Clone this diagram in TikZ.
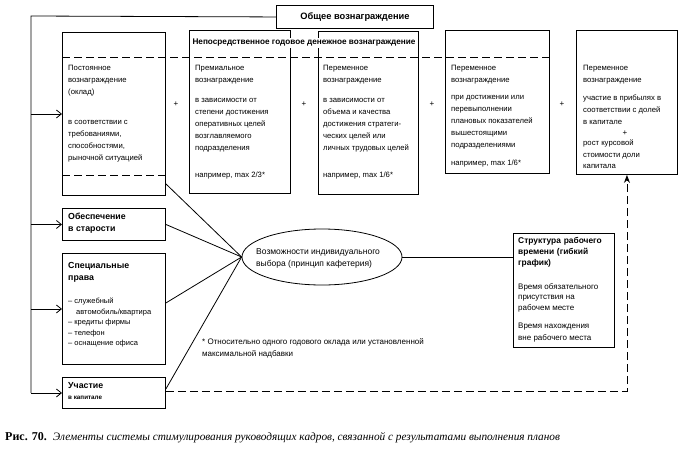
\documentclass[tikz,border=0pt]{standalone}
\usepackage{fontspec}
\setmainfont{Liberation Sans}
\newfontfamily\serf{Liberation Serif}
\usetikzlibrary{arrows.meta,shapes.geometric,calc}
\begin{document}
\begin{tikzpicture}[x=1pt,y=-1pt,
  box/.style={draw,line width=0.9pt,anchor=north west,inner sep=0pt},
  txt/.style={anchor=north west,inner sep=0pt,align=left,font=\fontsize{7.7}{12}\selectfont},
  btxt/.style={anchor=north west,inner sep=0pt,align=left,font=\fontsize{8.8}{12}\selectfont\bfseries},
  conn/.style={line width=0.8pt},
  arr/.style={line width=0.8pt,-{Straight Barb[length=5pt,width=8pt,line width=0.8pt]}},
  dsh/.style={line width=0.9pt,dash pattern=on 8pt off 4pt},
  plus/.style={inner sep=0pt,font=\fontsize{8}{8}\selectfont}]
\useasboundingbox (0,0) rectangle (690,453);

% top boxes
\node[box,minimum width=157pt,minimum height=23pt,font=\fontsize{9.3}{10}\selectfont\bfseries,anchor=north west] (tot) at (276,5) {Общее вознаграждение};
\node[box,minimum width=103pt,minimum height=163pt] (b1) at (62,32) {};
\node[box,minimum width=101pt,minimum height=163pt] (b2) at (189,30) {};
\node[box,minimum width=100pt,minimum height=163pt] (b3) at (318,31) {};
\node[box,minimum width=104pt,minimum height=143pt] (b4) at (445,30) {};
\node[box,minimum width=101pt,minimum height=144pt] (b5) at (576,30) {};

% dashed separators
\coordinate (d1) at (62,57);
\draw[dsh] (d1) -- (d1 -| b4.east);
\coordinate (d2) at (62,175);
\draw[dsh] (d2) -- (d2 -| b1.east);

\node[fill=white,inner sep=1pt,font=\fontsize{8.2}{10}\selectfont\bfseries] (hdr) at (304,43) {Непосредственное годовое денежное вознаграждение};

% box 1
\node[txt] (t1a) at (68,65) {Постоянное\\вознаграждение\\(оклад)};
\node[txt] (t1b) at (68,120) {в соответствии с\\требованиями,\\способностями,\\рыночной ситуацией};
% box 2
\node[txt] (t2a) at (195,65) {Премиальное\\вознаграждение};
\node[txt] (t2b) at (195,98) {в зависимости от\\степени достижения\\оперативных целей\\возглавляемого\\подразделения};
\node[txt] (t2c) at (195,172) {например, max 2/3*};
% box 3
\node[txt] (t3a) at (323,65) {Переменное\\вознаграждение};
\node[txt] (t3b) at (323,98) {в зависимости от\\объема и качества\\достижения стратеги-\\ческих целей или\\личных трудовых целей};
\node[txt] (t3c) at (323,172) {например, max 1/6*};
% box 4
\node[txt] (t4a) at (451,65) {Переменное\\вознаграждение};
\node[txt] (t4b) at (451,95) {при достижении или\\перевыполнении\\плановых показателей\\вышестоящими\\подразделениями};
\node[txt] (t4c) at (451,160) {например, max 1/6*};
% box 5
\node[txt] (t5a) at (583,65) {Переменное\\вознаграждение};
\node[txt] (t5b) at (583,95) {участие в прибылях в\\соответствии с долей\\в капитале};
\node[plus] (p5) at (625,133) {+};
\node[txt,font=\fontsize{7.7}{11.5}\selectfont] (t5c) at (583,140) {рост курсовой\\стоимости доли\\капитала};

% plus signs
\node[plus] (p1) at (176,104) {+};
\node[plus] (p2) at (304,104) {+};
\node[plus] (p3) at (432,104) {+};
\node[plus] (p4) at (562,104) {+};

% left column
\node[box,minimum width=103pt,minimum height=32pt] (obs) at (62,208) {};
\node[btxt] (tobs) at (68,213) {Обеспечение\\в старости};
\node[box,minimum width=103pt,minimum height=111pt] (spec) at (62,253) {};
\node[btxt] (tspec) at (68,262) {Специальные\\права};
\node[txt,font=\fontsize{7.5}{10.5}\selectfont] (tspl) at (68,298) {-- служебный\\\hspace*{8pt}автомобиль/квартира\\-- кредиты фирмы\\-- телефон\\-- оснащение офиса};
\node[box,minimum width=103pt,minimum height=31pt] (u) at (62,377) {};
\node[btxt] (tu) at (68,382) {Участие};
\node[anchor=north west,inner sep=0pt,font=\fontsize{6.3}{8}\selectfont\bfseries] (tu2) at (68,396) {в капитале};

% ellipse
\node[draw,ellipse,line width=0.8pt,minimum width=160pt,minimum height=56pt,inner sep=0pt] (ell) at (322,257) {};
\node[txt,font=\fontsize{8.5}{12}\selectfont] (tell) at (256,248) {Возможности индивидуального\\выбора (принцип кафетерия)};

% structure box
\node[box,minimum width=101pt,minimum height=114pt] (st) at (513,233) {};
\node[btxt,font=\fontsize{8.4}{11}\selectfont\bfseries,text width=91pt] (tst) at (518,237) {\makebox[91pt][s]{Структура рабочего}\\\makebox[91pt][s]{времени (гибкий}\\график)};
\node[txt,font=\fontsize{8}{10.5}\selectfont] (tst2) at (518,283) {Время обязательного\\присутствия на\\рабочем месте};
\node[txt,font=\fontsize{8}{11.5}\selectfont] (tst3) at (518,323) {Время нахождения\\вне рабочего места};

% footnote
\node[txt,font=\fontsize{8}{12.5}\selectfont] (fn) at (202,338) {* Относительно одного годового оклада или установленной\\максимальной надбавки};

% caption
\node[anchor=base west,inner sep=0pt,font=\serf\fontsize{11.3}{12}\selectfont] (cap) at (5,440) {\textbf{\fontsize{12}{12}\selectfont Рис. 70.}\hspace{6pt}\textit{Элементы системы стимулирования руководящих кадров, связанной с результатами выполнения планов}};

% outer frame and arrows
\coordinate (fl) at (31,16);
\draw[conn] (tot.west) -- (fl) -- (fl |- u.west);
\draw[arr] (b1.west -| fl) -- (b1.west);
\draw[arr] (obs.west -| fl) -- (obs.west);
\draw[arr] (spec.west -| fl) -- (spec.west);
\draw[arr] (u.west -| fl) -- (u.west);

% connectors to ellipse
\draw[conn] ($(b1.south east)+(0,-12)$) -- (ell.west);
\draw[conn] (obs.east) -- (ell.west);
\draw[conn] ($(spec.east)+(0,-6)$) -- (ell.west);
\draw[conn] ($(u.east)+(0,-4)$) -- (ell.west);
\draw[conn] (ell.east) -- (ell.east -| st.west);

% dashed feedback arrow
\coordinate (ue) at ($(u.east)+(0,-2)$);
\draw[dsh,-{Stealth[length=8pt,width=6pt]}] (ue) -- (ue -| b5.south) -- (b5.south);
\end{tikzpicture}
\end{document}
